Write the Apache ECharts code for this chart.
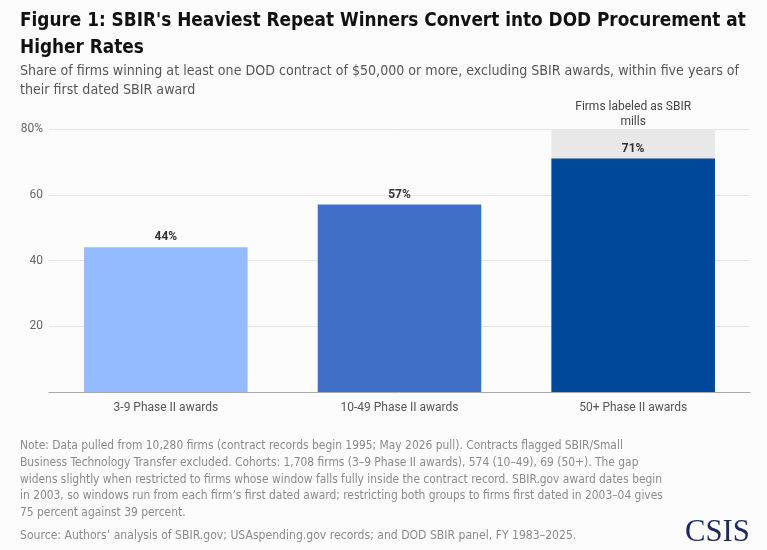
<!DOCTYPE html>
<html>
<head>
<meta charset="utf-8">
<script src="https://cdn.jsdelivr.net/npm/echarts@6/dist/echarts.min.js"></script>
<style>
html,body{margin:0;padding:0;background:#fcfcfc;}
#main{width:767px;height:550px;}
</style>
</head>
<body>
<div id="main"></div>
<script>
var categories = ['3-9 Phase II awards', '10-49 Phase II awards', '50+ Phase II awards'];
var shareValues = [44, 57, 71];
var barColors = ['#94bbff', '#3f6fc7', '#00489a'];
var highlightValues = [null, null, 80];
var highlightLabel = 'Firms labeled as SBIR\nmills';
var yTicks = [0, 20, 40, 60, 80];

var titleText = "Figure 1: SBIR's Heaviest Repeat Winners Convert into DOD Procurement at\nHigher Rates";
var subtitleText = 'Share of firms winning at least one DOD contract of $50,000 or more, excluding SBIR awards, within five years of\ntheir first dated SBIR award';
var noteText = 'Note: Data pulled from 10,280 firms (contract records begin 1995; May 2026 pull). Contracts flagged SBIR/Small\nBusiness Technology Transfer excluded. Cohorts: 1,708 firms (3\u20139 Phase II awards), 574 (10\u201349), 69 (50+). The gap\nwidens slightly when restricted to firms whose window falls fully inside the contract record. SBIR.gov award dates begin\nin 2003, so windows run from each firm\u2019s first dated award; restricting both groups to firms first dated in 2003\u201304 gives\n75 percent against 39 percent.';
var sourceText = 'Source: Authors\u2019 analysis of SBIR.gov; USAspending.gov records; and DOD SBIR panel, FY 1983\u20132025.';

var narrow = '"DejaVu Sans Condensed", "Liberation Sans Narrow", sans-serif';
var chart = echarts.init(document.getElementById('main'), null, {renderer: 'canvas'});
chart.setOption({
  backgroundColor: '#fcfcfc',
  animation: false,
  graphic: [
    {type: 'text', x: 20, y: 7.5, scaleX: 0.94, silent: true,
      style: {text: titleText, font: 'bold 20px ' + narrow, fill: '#111', lineHeight: 27, verticalAlign: 'top'}},
    {type: 'text', x: 20, y: 61.5, silent: true,
      style: {text: subtitleText, font: '14.1px ' + narrow, fill: '#555', lineHeight: 19, verticalAlign: 'top'}},
    {type: 'text', x: 20, y: 437.6, silent: true,
      style: {text: noteText, font: '11.9px ' + narrow, fill: '#8a8a8a', lineHeight: 16.8, verticalAlign: 'top'}},
    {type: 'text', x: 20, y: 527.6, silent: true,
      style: {text: sourceText, font: '12.1px ' + narrow, fill: '#8a8a8a', lineHeight: 16.8, verticalAlign: 'top'}},
    {type: 'text', x: 685, y: 533, scaleX: 0.96, silent: true,
      style: {text: 'CSIS', font: '32px "Liberation Serif", serif', fill: '#1c2a5e', verticalAlign: 'middle'}}
  ],
  grid: {left: 49, right: 17, top: 129, bottom: 158},
  xAxis: {
    type: 'category',
    data: categories,
    axisLine: {lineStyle: {color: '#aaaaaa'}},
    axisTick: {show: false},
    axisLabel: {color: '#555', fontFamily: 'Roboto, sans-serif', fontSize: 12, margin: 10}
  },
  yAxis: {
    type: 'value',
    min: 0, max: 80, interval: 20,
    axisLine: {show: false},
    axisTick: {show: false},
    splitLine: {lineStyle: {color: '#e4e4e4'}},
    axisLabel: {
      color: '#666', fontFamily: 'Roboto, sans-serif', fontSize: 12, margin: 6,
      formatter: function (v) { if (v === 0) return ''; return v === yTicks[yTicks.length - 1] ? v + '%' : String(v); }
    }
  },
  series: [
    {
      type: 'bar',
      data: highlightValues,
      barWidth: '70%',
      barGap: '-100%',
      silent: true,
      z: 1,
      itemStyle: {color: '#e8e8e8'},
      label: {show: true, position: 'top', distance: 0, formatter: function () { return highlightLabel; }, color: '#444', fontFamily: 'Roboto, sans-serif', fontSize: 12, lineHeight: 15}
    },
    {
      type: 'bar',
      data: shareValues.map(function (v, i) { return {value: v, itemStyle: {color: barColors[i]}}; }),
      barWidth: '70%',
      z: 2,
      label: {show: true, position: 'top', distance: 4, formatter: '{c}%', color: '#333', fontWeight: 'bold', fontFamily: 'Roboto, sans-serif', fontSize: 12}
    }
  ]
});
</script>
</body>
</html>
